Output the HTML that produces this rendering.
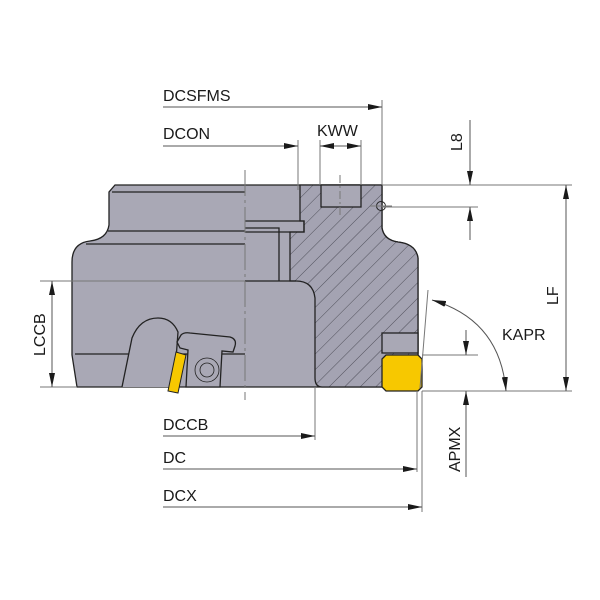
<!DOCTYPE html>
<html><head><meta charset="utf-8"><style>
html,body{margin:0;padding:0;background:#fff;}
svg{display:block;}
text{font-family:"Liberation Sans",sans-serif;font-size:16px;fill:#1a1a1a;}
</style></head><body>
<svg width="600" height="600" viewBox="0 0 600 600" xmlns="http://www.w3.org/2000/svg">
<defs>
<marker id="a" viewBox="0 0 14 6" refX="14" refY="3" markerWidth="14" markerHeight="6" markerUnits="userSpaceOnUse" orient="auto-start-reverse"><path d="M0,0 L14,3 L0,6 Z" fill="#1a1a1a"/></marker>
<pattern id="h" patternUnits="userSpaceOnUse" width="11" height="11" patternTransform="rotate(45)">
<rect width="11" height="11" fill="#a4a3b2"/><line x1="0" y1="0" x2="0" y2="11" stroke="#3a3a45" stroke-width="0.8"/></pattern>
</defs>
<g stroke="#222" stroke-width="1.3">
<!-- main body -->
<path d="M115,185 L382,185 L382,228 Q384,240 398,242 Q416,244 418,258 L418,387 L77,387 L72,355 L72,262 Q72,243 90,241 Q107,239 109,225 L109,192 Z" fill="#a9a8b5"/>
<!-- hatched section -->
<path d="M300,185 L382,185 L382,228 Q384,240 398,242 Q416,244 418,258 L418,387 L322,387 Q315,387 315,378 L315,298 Q313,281 296,281 L290,281 L290,232 L304,232 L304,221 L300,221 L300,193 Z" fill="url(#h)"/>
<!-- flange -->
<path d="M245,221 L304,221 L304,232 L245,232" fill="none"/>
<path d="M245,228 L279,228 L279,281 M245,281 L296,281" fill="none"/>
<!-- key slot -->
<rect x="321" y="185" width="40" height="22" fill="#a9a8b5"/>
<circle cx="381" cy="206" r="4.5" fill="none" stroke-width="1"/>
<!-- left body lines -->
<path d="M112,192 L245,192 M108,231 L245,231 M86,244 L245,244 M75,354 L245,354" fill="none"/>
<!-- pocket -->
<path d="M122,387 L132,338 Q140,318 158,318 Q172,318 178,332 L174,387" fill="#a9a8b5"/>
<path d="M177,342 L181,335 Q184,332 190,333 L230,337 Q237,339 235,346 L233,352 L222,351 L220,387 L186,387 L188,350 L180,348 Z" fill="#a9a8b5"/>
<circle cx="207" cy="370" r="12" fill="none" stroke-width="0.8"/>
<circle cx="207" cy="370" r="7" fill="none" stroke-width="0.8"/>
<path d="M176,352 L186,355 L178,393 L168,391 Z" fill="#f7c800" stroke-width="1"/>
<!-- insert -->
<rect x="382" y="333" width="36" height="20" fill="#a9a8b5"/>
<path d="M386,355 L418,355 L422,359 L422,387 L418,391 L386,391 L382,387 L382,359 Z" fill="#f7c800"/>
</g>
<!-- thin lines -->
<g stroke="#777" stroke-width="1" fill="none">
<line x1="245" y1="170" x2="245" y2="400" stroke-dasharray="26,4,3,4"/>
<line x1="340" y1="175" x2="340" y2="215" stroke-dasharray="8,3,2,3"/>
<line x1="370" y1="206" x2="392" y2="206"/>
<line x1="40" y1="281" x2="245" y2="281"/>
<line x1="40" y1="387" x2="77" y2="387"/>
<line x1="382" y1="100" x2="382" y2="185"/>
<line x1="298" y1="140" x2="298" y2="190"/>
<line x1="320" y1="140" x2="320" y2="185"/>
<line x1="361" y1="140" x2="361" y2="185"/>
<line x1="382" y1="185" x2="572" y2="185"/>
<line x1="382" y1="207" x2="478" y2="207"/>
<line x1="422" y1="391" x2="572" y2="391"/>
<line x1="422" y1="355" x2="478" y2="355"/>
<line x1="315" y1="387" x2="315" y2="440"/>
<line x1="417" y1="391" x2="417" y2="472"/>
<line x1="422" y1="391" x2="422" y2="512"/>
<line x1="420" y1="388" x2="428" y2="290"/>
</g>
<g stroke="#555" stroke-width="1" fill="none">
<line x1="163" y1="107" x2="382" y2="107" marker-end="url(#a)"/>
<line x1="163" y1="146" x2="298" y2="146" marker-end="url(#a)"/>
<line x1="320" y1="146" x2="361" y2="146"/>
<line x1="340" y1="146" x2="320" y2="146" marker-end="url(#a)"/>
<line x1="341" y1="146" x2="361" y2="146" marker-end="url(#a)"/>
<line x1="470" y1="120" x2="470" y2="185" marker-end="url(#a)"/>
<line x1="470" y1="240" x2="470" y2="207" marker-end="url(#a)"/>
<line x1="566" y1="185" x2="566" y2="391" marker-start="url(#a)" marker-end="url(#a)"/>
<line x1="466" y1="330" x2="466" y2="355" marker-end="url(#a)"/>
<line x1="466" y1="477" x2="466" y2="391" marker-end="url(#a)"/>
<path d="M432,300 Q500,320 506,391" marker-start="url(#a)" marker-end="url(#a)"/>
<line x1="52" y1="281" x2="52" y2="387" marker-start="url(#a)" marker-end="url(#a)"/>
<line x1="163" y1="436" x2="315" y2="436" marker-end="url(#a)"/>
<line x1="163" y1="469" x2="417" y2="469" marker-end="url(#a)"/>
<line x1="163" y1="507" x2="422" y2="507" marker-end="url(#a)"/>
</g>
<text x="163" y="101">DCSFMS</text>
<text x="163" y="139">DCON</text>
<text x="317" y="136">KWW</text>
<text x="502" y="340">KAPR</text>
<text x="163" y="430">DCCB</text>
<text x="163" y="463">DC</text>
<text x="163" y="501">DCX</text>
<text transform="translate(462,151) rotate(-90)">L8</text>
<text transform="translate(558,305) rotate(-90)">LF</text>
<text transform="translate(460,472) rotate(-90)">APMX</text>
<text transform="translate(45,356) rotate(-90)">LCCB</text>
</svg>
</body></html>
